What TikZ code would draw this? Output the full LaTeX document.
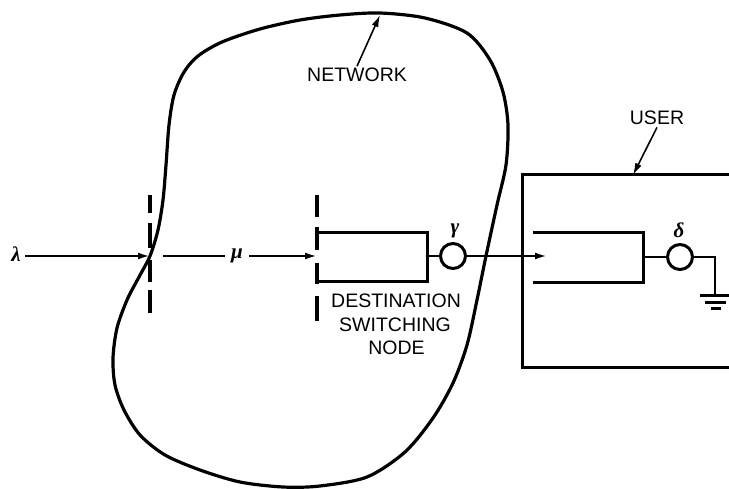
\documentclass[tikz,border=0pt]{standalone}
\usepackage{fontspec}
\setmainfont{Liberation Sans}
\newfontfamily\grkfont{Liberation Serif}
\usetikzlibrary{arrows.meta}
\begin{document}
\begin{tikzpicture}[x=1pt,y=-1pt,
  blobline/.style={line width=3.2pt, line join=round},
  boxline/.style={line width=3pt},
  dashpiece/.style={line width=3.2pt},
  conn/.style={line width=2.4pt},
  arr/.style={line width=2.2pt,-{Latex[length=12pt,width=7pt]}},
  lbl/.style={font=\fontsize{19.5}{23}\selectfont, inner sep=2pt, anchor=base},
  greek/.style={font=\grkfont\bfseries\itshape\fontsize{21}{23}\selectfont, inner sep=2pt, anchor=base},
  ring/.style={circle, draw, line width=3pt, minimum size=25pt, inner sep=0pt}]
\useasboundingbox (0,0) rectangle (729,489);

% network blob
\draw[blobline] plot[smooth cycle, tension=0.5] coordinates {
  (380,13) (425,18) (467,33) (490,60) (503,92) (508,125) (506,165)
  (497,205) (486,256) (477,300) (467,345) (453,383) (433,418) (405,452)
  (367,477) (320,486) (283,487) (240,482) (200,470) (165,455) (140,435)
  (124,410) (115,385) (113,358) (117,328) (127,300) (139,277) (150,256)
  (158,230) (163,200) (166,165) (169,125) (174,95) (184,72) (198,56)
  (222,42) (260,29) (300,20) (340,15)};

% labels
\node[lbl] (net) at (357,82) {NETWORK};
\node[lbl] (user) at (657,125) {USER};
\node[lbl] (dsn1) at (396,308) {DESTINATION};
\node[lbl] (dsn2) at (395,332) {SWITCHING};
\node[lbl] (dsn3) at (396.5,355) {NODE};

\coordinate (netTip) at (380,15);
\coordinate (userTip) at (633,175);
\draw[arr, line width=1.6pt] (net.north) -- (netTip);
\draw[arr, line width=1.6pt] (user.south) -- (userTip);

% dashed boundary lines
\draw[dashpiece] (150,195) -- (150,213) (150,223) -- (150,248)
                 (150,260) -- (150,282) (150,290) -- (150,313);
\draw[dashpiece] (317,195) -- (317,217) (317,227) -- (317,250)
                 (317,263) -- (317,284) (317,296) -- (317,321);

% destination switching node box (open on the left)
\draw[boxline] (317,233) -- (427,233) -- (427,282) -- (317,282);
\coordinate (dsnR) at (427,256);
\coordinate (dsnL) at (317,256);

% user box
\draw[boxline] (729,175) -- (522,175) -- (522,368) -- (729,368);
\draw[boxline] (533,233) -- (643,233) -- (643,283) -- (533,283);
\coordinate (ubR) at (643,257);
\coordinate (ubIn) at (547,256);

% greek labels and arrows
\node[greek] (lam) at (16,262) {λ};
\coordinate (cross) at (150,256);
\coordinate (lamStart) at (25,256);
\draw[arr] (lamStart) -- (cross);
\node[greek, inner sep=6pt] (mu) at (237,259) {μ};
\coordinate (muStart) at (163,256);
\draw[conn] (muStart) -- (mu.west |- muStart);
\draw[arr] (mu.east |- muStart) -- (dsnL);

\node[ring] (g) at (453,256) {};
\node[greek] (gl) at (455,234) {γ};
\draw[conn] (dsnR) -- (g.west);
\draw[arr] (g.east) -- (ubIn);

\node[ring] (d) at (680,257) {};
\node[greek] (dl) at (679,238) {δ};
\draw[conn] (ubR) -- (d.west);
\coordinate (gnd) at (715,296);
\draw[conn, line width=2.6pt] (d.east) -| (gnd);
\draw[boxline] (700,296) -- (729,296) (705,302.5) -- (726,302.5) (711,309) -- (721,309);
\end{tikzpicture}
\end{document}
